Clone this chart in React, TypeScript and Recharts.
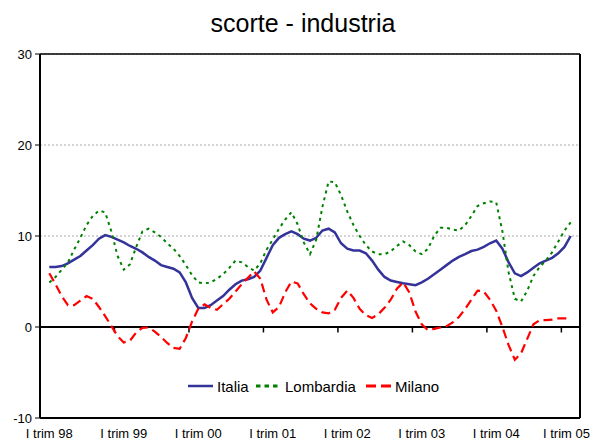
import React from 'react';
import { LineChart, Line, XAxis, YAxis, CartesianGrid, ReferenceLine } from 'recharts';

const yearLabels = ['I trim 98', 'I trim 99', 'I trim 00', 'I trim 01', 'I trim 02', 'I trim 03', 'I trim 04', 'I trim 05'];
const yTicks = [-10, 0, 10, 20, 30];

const italia = [
  6.6, 6.6, 6.7, 7.0, 7.4, 7.8, 8.4, 9.0, 9.7, 10.1,
  9.9, 9.6, 9.3, 8.9, 8.6, 8.2, 7.7, 7.3, 6.8, 6.6,
  6.4, 6.0, 4.9, 3.2, 2.1, 2.1, 2.4, 2.9, 3.4, 4.1,
  4.7, 5.1, 5.25, 5.5, 6.2, 7.6, 9.0, 9.8, 10.2, 10.5,
  10.2, 9.7, 9.5, 9.8, 10.6, 10.8, 10.4, 9.2, 8.6, 8.4,
  8.4, 8.1, 7.3, 6.3, 5.5, 5.1, 4.95, 4.8, 4.7, 4.6,
  4.9, 5.3, 5.8, 6.3, 6.8, 7.3, 7.7, 8.0, 8.35, 8.5,
  8.8, 9.2, 9.5, 8.6, 7.1, 5.9, 5.6, 6.0, 6.5, 7.0,
  7.3, 7.6, 8.1, 8.8, 10.0,
];

const lombardia = [
  4.9, 5.5, 6.3, 7.1, 8.5, 9.8, 11.2, 12.2, 12.8, 12.6,
  10.5, 7.8, 6.3, 6.9, 8.8, 10.5, 10.8, 10.4, 9.9, 9.2,
  8.6, 7.8, 6.8, 5.7, 4.9, 4.8, 4.9, 5.3, 5.8, 6.5,
  7.3, 7.1, 6.6, 6.2, 7.0, 8.5, 9.6, 10.8, 11.8, 12.6,
  11.3, 9.3, 8.0, 9.6, 13.2, 16.0, 15.9, 14.5, 12.7, 11.2,
  10.0, 9.0, 8.3, 8.0, 8.0, 8.3, 8.9, 9.4, 9.0, 8.3,
  8.0, 8.6, 10.0, 10.9, 10.9, 10.7, 10.6, 11.2, 12.2, 13.3,
  13.6, 13.8, 13.7, 10.5, 6.0, 3.1, 2.8, 4.0, 5.6, 6.6,
  7.3, 8.2, 9.4, 10.6, 11.5,
];

const milano = [
  5.9, 4.7, 3.4, 2.4, 2.4, 2.9, 3.4, 3.1, 2.2, 1.2,
  0.1, -1.0, -1.7, -1.5, -0.6, -0.1, -0.05, -0.5, -1.1, -1.75,
  -2.3, -2.4, -1.2, 0.6, 2.0, 2.5, 2.1, 1.9, 2.5, 3.1,
  3.9, 4.7, 5.4, 6.1, 5.3, 3.0, 1.6, 2.2, 3.8, 5.0,
  4.8, 3.6, 2.6, 2.0, 1.6, 1.5, 1.9, 3.2, 4.0, 3.2,
  2.0, 1.3, 1.0, 1.4, 2.1, 3.0, 4.2, 4.9, 3.8, 1.7,
  0.3, -0.35, -0.2, -0.05, 0.1, 0.5, 1.1, 2.0, 3.0, 4.0,
  3.9, 3.0, 1.8, 0.0, -2.0, -3.6, -2.9, -1.3, 0.3, 0.75,
  0.75, 0.8, 0.95, 0.95, 0.95,
];

const data = italia.map((v, i) => ({
  month: i,
  italia: v,
  lombardia: lombardia[i],
  milano: milano[i],
}));

const labelTicks = yearLabels.map((_, k) => k * 12);
const boundaryTicks = [1, 2, 3, 4, 5, 6, 7].map((k) => k * 12 - 1.5);

const FONT = '"Liberation Sans", Arial, sans-serif';

const XTick = (props: any) => {
  const { x, y, payload } = props;
  const label = yearLabels[Math.round(payload.value / 12)];
  const nearEdge = x + 22 > 590;
  return (
    <text
      x={nearEdge ? 590 : x}
      y={y}
      dy="0.71em"
      textAnchor={nearEdge ? 'end' : 'middle'}
      fontSize={13}
      fill="#000"
      fontFamily={FONT}
    >
      {label}
    </text>
  );
};

const LegendBox = () => (
  <svg width={270} height={22} style={{ position: 'absolute', left: 180, top: 376, fontFamily: FONT }}>
    <line x1={8} y1={10} x2={33} y2={10} stroke="#333399" strokeWidth={2.5} />
    <text x={37} y={16} fontSize={15} fill="#000">Italia</text>
    <line x1={76} y1={10} x2={98} y2={10} stroke="#008000" strokeWidth={3} strokeDasharray="4.5 4" />
    <text x={105} y={16} fontSize={15} fill="#000">Lombardia</text>
    <line x1={186} y1={10} x2={211} y2={10} stroke="#ff0000" strokeWidth={3} strokeDasharray="10 5" />
    <text x={215} y={16} fontSize={15} fill="#000">Milano</text>
  </svg>
);

export default function App() {
  return (
    <div style={{ position: 'absolute', left: 0, top: 0, width: 591, height: 441, background: '#fff' }}>
      <svg width={591} height={50} style={{ position: 'absolute', left: 0, top: 0, fontFamily: FONT }}>
        <text x={303} y={32} textAnchor="middle" fontSize={25} fill="#000">scorte - industria</text>
      </svg>
      <div style={{ position: 'absolute', left: 0, top: 0 }}>
        <LineChart
          width={591}
          height={441}
          data={data}
          margin={{ top: 54, right: 11, bottom: 0, left: 0 }}
          style={{ fontFamily: FONT }}
        >
          <CartesianGrid vertical={false} stroke="#a8a8a8" strokeDasharray="2 2" />
          <XAxis
            dataKey="month"
            type="number"
            domain={[-1.5, 85.5]}
            ticks={labelTicks}
            interval={0}
            tickLine={false}
            tickSize={5}
            tickMargin={6}
            height={23}
            axisLine={{ stroke: '#000', strokeWidth: 2 }}
            tick={<XTick />}
          />
          <YAxis
            type="number"
            domain={[-10, 30]}
            ticks={yTicks}
            interval={0}
            width={40}
            tickSize={5}
            tickMargin={3}
            axisLine={{ stroke: '#000', strokeWidth: 2 }}
            tickLine={{ stroke: '#000', strokeWidth: 1 }}
            tick={{ fill: '#000', fontSize: 13 }}
          />
          <ReferenceLine y={30} stroke="#000" strokeWidth={1.5} />
          <ReferenceLine x={85.5} stroke="#000" strokeWidth={2} />
          <ReferenceLine y={0} stroke="#000" strokeWidth={2} />
          {boundaryTicks.map((x) => (
            <ReferenceLine
              key={x}
              segment={[{ x, y: 0 }, { x, y: -0.6 }]}
              stroke="#000"
              strokeWidth={1.5}
            />
          ))}
          <Line
            type="linear"
            dataKey="italia"
            name="Italia"
            stroke="#333399"
            strokeWidth={2.5}
            dot={false}
            isAnimationActive={false}
          />
          <Line
            type="linear"
            dataKey="lombardia"
            name="Lombardia"
            stroke="#008000"
            strokeWidth={2}
            strokeDasharray="3 4"
            dot={false}
            isAnimationActive={false}
          />
          <Line
            type="linear"
            dataKey="milano"
            name="Milano"
            stroke="#ff0000"
            strokeWidth={2.2}
            strokeDasharray="9 5"
            dot={false}
            isAnimationActive={false}
          />
        </LineChart>
      </div>
      <LegendBox />
    </div>
  );
}
